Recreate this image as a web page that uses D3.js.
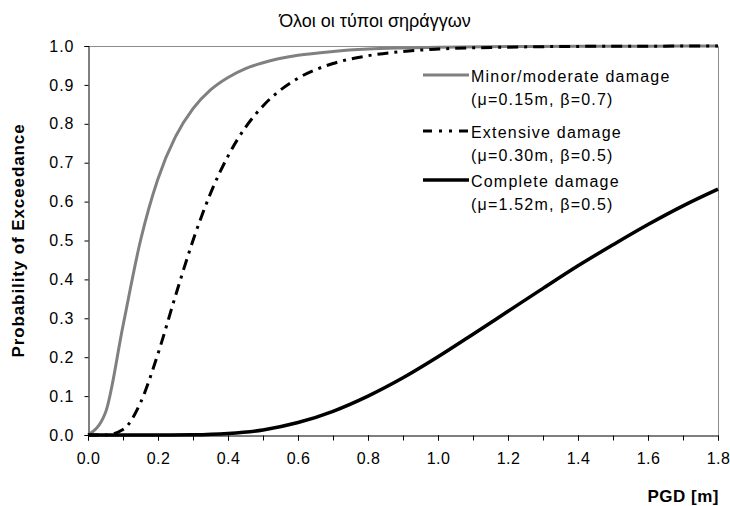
<!DOCTYPE html>
<html>
<head>
<meta charset="utf-8">
<script src="https://cdn.jsdelivr.net/npm/d3@7"></script>
<style>
  html, body { margin: 0; padding: 0; background: #fff; }
  svg { display: block; font-family: "Liberation Sans", Arial, sans-serif; }
</style>
</head>
<body>
<svg id="chart" width="730" height="506"></svg>
<script>
// Ground deformation (PGD) values at which each fragility curve is sampled
const pgdFine = [0, 0.05, 0.10, 0.15, 0.20, 0.25, 0.30, 0.35, 0.40, 0.45, 0.50,
                 0.60, 0.70, 0.80, 0.90, 1.00, 1.20, 1.40, 1.60, 1.80];
const pgdComplete = [0, 0.1, 0.2, 0.3, 0.4, 0.5, 0.6, 0.7, 0.8, 0.9, 1.0,
                     1.1, 1.2, 1.3, 1.4, 1.5, 1.6, 1.7, 1.8];

// Probability of exceedance per damage state
const minorModerate = [0.000, 0.058, 0.281, 0.500, 0.659, 0.767, 0.839, 0.887, 0.919, 0.942, 0.957,
                       0.976, 0.986, 0.992, 0.995, 0.997, 0.9985, 0.9993, 0.9996, 0.9998];
const extensive = [0.000, 0.000, 0.014, 0.083, 0.209, 0.358, 0.500, 0.621, 0.717, 0.791, 0.846,
                   0.917, 0.955, 0.975, 0.986, 0.992, 0.997, 0.999, 0.9996, 0.9998];
const complete = [0.000, 0.000, 0.000, 0.0006, 0.004, 0.013, 0.032, 0.061, 0.100, 0.147, 0.201,
                  0.259, 0.318, 0.377, 0.435, 0.489, 0.541, 0.589, 0.632];

const xTicks = [0, 0.2, 0.4, 0.6, 0.8, 1.0, 1.2, 1.4, 1.6, 1.8];
const xMinorTicks = d3.range(0, 19).map(i => i / 10);
const yTicks = d3.range(0, 11).map(i => i / 10);

const seriesNames = ["Minor/moderate damage", "Extensive damage", "Complete damage"];
const seriesParams = ["(μ=0.15m, β=0.7)", "(μ=0.30m, β=0.5)", "(μ=1.52m, β=0.5)"];

const title = "Όλοι οι τύποι σηράγγων";
const xLabel = "PGD [m]";
const yLabel = "Probability of Exceedance";

const svg = d3.select("#chart");
const margin = { left: 88, right: 12, top: 46, bottom: 71 };
const W = 730, H = 506;

const x = d3.scaleLinear().domain([0, 1.8]).range([margin.left, W - margin.right]);
const y = d3.scaleLinear().domain([0, 1]).range([H - margin.bottom, margin.top]);

// Title
svg.append("text")
  .attr("x", 375).attr("y", 27)
  .attr("text-anchor", "middle")
  .attr("font-size", 18)
  .attr("fill", "#000")
  .text(title);

// Plot frame: grey top/right edges
svg.append("path")
  .attr("d", `M${x(0)},${y(1) + 0.5}H${x(1.8) + 0.5}V${y(0)}`)
  .attr("fill", "none")
  .attr("stroke", "#8c8c8c")
  .attr("stroke-width", 1);

const tickFont = (g, spacing) => g.selectAll(".tick text")
  .attr("font-size", 16)
  .attr("letter-spacing", spacing)
  .attr("font-family", "Liberation Sans, Arial, sans-serif")
  .attr("fill", "#000");

// Y axis
const yAxis = d3.axisLeft(y).tickValues(yTicks).tickFormat(d3.format(".1f")).tickSize(4).tickPadding(10);
const gy = svg.append("g").attr("transform", `translate(${x(0) + 0.5},0)`).call(yAxis);
gy.select(".domain").attr("stroke", "#000");
gy.selectAll(".tick line").attr("stroke", "#000");
tickFont(gy, 1);

// X axis: minor ticks every 0.1, labels every 0.2
const xMinor = d3.axisBottom(x).tickValues(xMinorTicks).tickFormat("").tickSize(5).tickSizeOuter(0);
svg.append("g").attr("transform", `translate(0,${y(0) + 0.5})`).call(xMinor)
  .call(g => g.select(".domain").remove())
  .selectAll(".tick line").attr("stroke", "#000");
const xAxis = d3.axisBottom(x).tickValues(xTicks).tickFormat(d3.format(".1f")).tickSize(5).tickPadding(12).tickSizeOuter(0);
const gx = svg.append("g").attr("transform", `translate(0,${y(0) + 0.5})`).call(xAxis);
gx.select(".domain").attr("stroke", "#000");
gx.selectAll(".tick line").attr("stroke", "#000");
tickFont(gx, 0.5);

// Axis titles
svg.append("text")
  .attr("transform", `translate(24,${(y(0) + y(1)) / 2}) rotate(-90)`)
  .attr("text-anchor", "middle")
  .attr("font-size", 17).attr("font-weight", "bold")
  .attr("letter-spacing", 0.9)
  .text(yLabel);
svg.append("text")
  .attr("x", 719).attr("y", 502)
  .attr("text-anchor", "end")
  .attr("font-size", 17).attr("font-weight", "bold")
  .attr("letter-spacing", 0.5)
  .text(xLabel);

// Curves
const styles = [
  { color: "#808080", width: 3, dash: null },
  { color: "#000", width: 3, dash: "11,6,3,6" },
  { color: "#000", width: 3.5, dash: null }
];
const series = [
  { xs: pgdFine, ys: minorModerate },
  { xs: pgdFine, ys: extensive },
  { xs: pgdComplete, ys: complete }
];

const line = d3.line().x(d => x(d[0])).y(d => y(d[1])).curve(d3.curveMonotoneX);
const plot = svg.append("g");
series.forEach((s, i) => {
  const pts = s.xs.map((v, j) => [v, s.ys[j]]);
  plot.append("path")
    .datum(pts)
    .attr("d", line)
    .attr("fill", "none")
    .attr("stroke", styles[i].color)
    .attr("stroke-width", styles[i].width)
    .attr("stroke-dasharray", styles[i].dash);
});

// Legend
const legendY = [75, 131, 180];
const legend = svg.append("g");
seriesNames.forEach((name, i) => {
  const g = legend.append("g").attr("transform", `translate(0,${legendY[i]})`);
  g.append("line")
    .attr("x1", 423).attr("x2", 469).attr("y1", 0).attr("y2", 0)
    .attr("stroke", styles[i].color)
    .attr("stroke-width", styles[i].width)
    .attr("stroke-dasharray", i === 1 ? "9,7,3,7,3,7" : null);
  g.append("text").attr("x", 471).attr("y", 7).attr("font-size", 16).attr("letter-spacing", 1.2).text(name);
  g.append("text").attr("x", 471).attr("y", 30).attr("font-size", 16).attr("letter-spacing", 1.2).text(seriesParams[i]);
});
</script>
</body>
</html>
